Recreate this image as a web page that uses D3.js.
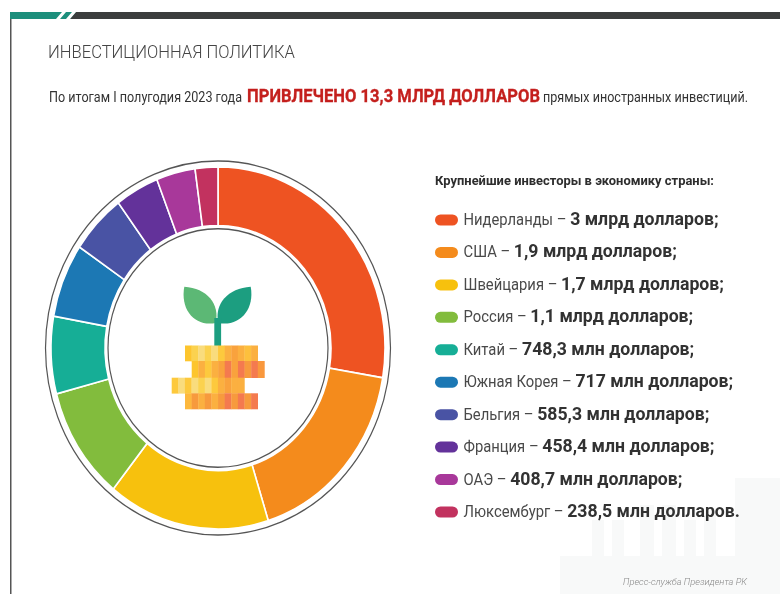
<!doctype html>
<html>
<head>
	<meta charset="utf-8"/>
	<title>Инвестиционная политика</title>
	<script src="https://cdnjs.cloudflare.com/ajax/libs/d3/7.8.5/d3.min.js"></script>
	<style>
		html, body { margin: 0; padding: 0; background: #fff; }
		svg { display: block; }
		text { font-family: Roboto, "Noto Sans", sans-serif; }
	</style>
</head>
<body>
	<svg id="chart" width="780" height="594"></svg>
	<script>
		// values in million dollars
		var countries = ["Нидерланды", "США", "Швейцария", "Россия", "Китай", "Южная Корея", "Бельгия", "Франция", "ОАЭ", "Люксембург"];
		var amounts = [3000, 1900, 1700, 1100, 748.3, 717, 585.3, 458.4, 408.7, 238.5];
		var amountLabels = ["3 млрд долларов;", "1,9 млрд долларов;", "1,7 млрд долларов;", "1,1 млрд долларов;", "748,3 млн долларов;", "717 млн долларов;", "585,3 млн долларов;", "458,4 млн долларов;", "408,7 млн долларов;", "238,5 млн долларов."];
		var colors = ["#ee5323", "#f48b1c", "#f7c110", "#82bc3c", "#14ae96", "#1a78b4", "#4a53a4", "#63339a", "#a8379a", "#c2315f"];

		// coin stack of the icon, one list per row
		var coinRow1 = ["#fdc52f", "#fbd24f", "#f9dc7d", "#fbd24f", "#f9dc7d", "#fdc93c", "#fbb040", "#f9a23c", "#fbb040", "#fdc03c", "#fbb040"];
		var coinRow2 = ["#fdc52f", "#fbb040", "#fdc93c", "#fbb040", "#f9a23c", "#f47a50", "#f9a23c", "#f47a50", "#f79a3c", "#f47a50", "#f9983c"];
		var coinRow3 = ["#fdc93c", "#f9dc7d", "#fdc93c", "#f9dc7d", "#fbd24f", "#f9dc7d", "#fdc93c", "#fbb040", "#f9a23c", "#fbb040", "#fbb040"];
		var coinRow4 = ["#fdb83c", "#f79a3c", "#fbb040", "#f79a3c", "#fbb040", "#f79a3c", "#f47a50", "#f79a3c", "#f47a50", "#f79a3c", "#f47a50"];

		var svg = d3.select("#chart");
		var stretchY = 1.084;

		var defs = svg.append("defs");
		defs.append("filter").attr("id", "soft")
			.append("feGaussianBlur").attr("stdDeviation", 0.45);

		// pale building in the corner
		var building = svg.append("g").attr("fill", "#f8f9f9");
		[[560, 556, 220, 38], [592, 520, 12, 74], [612, 520, 12, 74], [640, 505, 14, 89], [662, 505, 14, 89], [684, 520, 12, 74], [704, 515, 12, 74], [735, 478, 45, 116]].forEach(function (b) {
			building.append("rect").attr("x", b[0]).attr("y", b[1]).attr("width", b[2]).attr("height", b[3]);
		});

		var page = svg.append("g").attr("filter", "url(#soft)");

		// frame
		page.append("rect").attr("x", 10).attr("y", 12).attr("width", 770).attr("height", 7).attr("fill", "#3a3d3c");
		page.append("rect").attr("x", 10).attr("y", 19).attr("width", 1.5).attr("height", 575).attr("fill", "#555");
		page.append("path").attr("d", "M10,12H76L70,19H10Z").attr("fill", "#1f8f7c");
		page.append("path").attr("d", "M62,12H66L60,19H56Z M72,12H76L70,19H66Z").attr("fill", "#fff");

		function stretched(x, y) {
			return "translate(" + x + "," + y + ") scale(1," + stretchY + ")";
		}

		page.append("text").attr("transform", stretched(48, 58))
			.attr("font-size", 17).attr("font-weight", 300).attr("fill", "#444")
			.attr("textLength", 247).attr("lengthAdjust", "spacingAndGlyphs").text("ИНВЕСТИЦИОННАЯ ПОЛИТИКА");

		page.append("text").attr("transform", stretched(49, 102))
			.attr("font-size", 13.5).attr("fill", "#333")
			.attr("textLength", 193).attr("lengthAdjust", "spacingAndGlyphs").text("По итогам I полугодия 2023 года");
		page.append("text").attr("transform", stretched(247, 102))
			.attr("font-size", 17.5).attr("font-weight", 700).attr("fill", "#c4201f")
			.attr("stroke", "#c4201f").attr("stroke-width", 0.3)
			.attr("textLength", 293).attr("lengthAdjust", "spacingAndGlyphs").text("ПРИВЛЕЧЕНО 13,3 МЛРД ДОЛЛАРОВ");
		page.append("text").attr("transform", stretched(543, 102))
			.attr("font-size", 13.5).attr("fill", "#333")
			.attr("textLength", 205).attr("lengthAdjust", "spacingAndGlyphs").text("прямых иностранных инвестиций.");

		// donut
		var donut = page.append("g").attr("transform", stretched(218, 348));
		var pie = d3.pie().sort(null).value(function (d) { return d; });
		var arc = d3.arc().innerRadius(113).outerRadius(167);

		donut.selectAll("path.slice").data(pie(amounts)).enter().append("path")
			.attr("class", "slice")
			.attr("d", arc)
			.attr("fill", function (d, i) { return colors[i]; })
			.attr("stroke", "#fff")
			.attr("stroke-width", 1.6);

		donut.selectAll("circle.rim").data([172.5, 110]).enter().append("circle")
			.attr("class", "rim")
			.attr("r", function (d) { return d; })
			.attr("fill", "none")
			.attr("stroke", "#555")
			.attr("stroke-width", 1.2);

		// plant icon
		page.append("path").attr("d", "M184.3,286.7C207,288 220,304 215.7,323C195,327 180,310 184.3,286.7Z").attr("fill", "#5cb874");
		page.append("path").attr("d", "M250.7,286.7C228,288 214,304 218.3,323C239,327 255,310 250.7,286.7Z").attr("fill", "#1f9e80");
		page.append("rect").attr("x", 214.3).attr("y", 318).attr("width", 6.8).attr("height", 28).attr("fill", "#1f9e80");

		var coinX = d3.scaleLinear().domain([0, 11]).range([0, 72.7]);
		var coinRows = [
			{ cells: coinRow1, x: 185, y: 345.5, h: 15.8 },
			{ cells: coinRow2, x: 191.7, y: 361, h: 17 },
			{ cells: coinRow3, x: 171.7, y: 377.7, h: 15.9 },
			{ cells: coinRow4, x: 185, y: 393.3, h: 16 }
		];
		coinRows.forEach(function (row) {
			page.append("g").selectAll("rect").data(row.cells).enter().append("rect")
				.attr("x", function (d, i) { return row.x + coinX(i); })
				.attr("y", row.y)
				.attr("width", coinX(1) + 0.3)
				.attr("height", row.h)
				.attr("fill", function (d) { return d; });
		});

		// legend
		page.append("text").attr("transform", stretched(435, 185))
			.attr("font-size", 12.2).attr("font-weight", 700).attr("fill", "#2d2d2d")
			.attr("textLength", 279).attr("lengthAdjust", "spacingAndGlyphs").text("Крупнейшие инвесторы в экономику страны:");

		var legendY = d3.scaleLinear().domain([0, 9]).range([220, 512]);
		var legend = page.selectAll("g.row").data(countries).enter().append("g").attr("class", "row");

		legend.append("rect")
			.attr("x", 435).attr("y", function (d, i) { return legendY(i) - 5.5; })
			.attr("width", 23).attr("height", 11).attr("rx", 5.5)
			.attr("fill", function (d, i) { return colors[i]; });

		var rowText = legend.append("text")
			.attr("transform", function (d, i) { return stretched(463.5, legendY(i) + 5); })
			.attr("fill", "#333");
		rowText.append("tspan").attr("font-size", 14.8).attr("fill", "#4a4a4a")
			.text(function (d) { return d + " – "; });
		rowText.append("tspan").attr("font-size", 17.7).attr("font-weight", 700)
			.text(function (d, i) { return amountLabels[i]; });

		page.append("text").attr("x", 623).attr("y", 585)
			.attr("font-size", 9).attr("font-style", "italic").attr("font-weight", 300).attr("fill", "#888")
			.attr("textLength", 124).attr("lengthAdjust", "spacingAndGlyphs").text("Пресс-служба Президента РК");
	</script>
</body>
</html>
